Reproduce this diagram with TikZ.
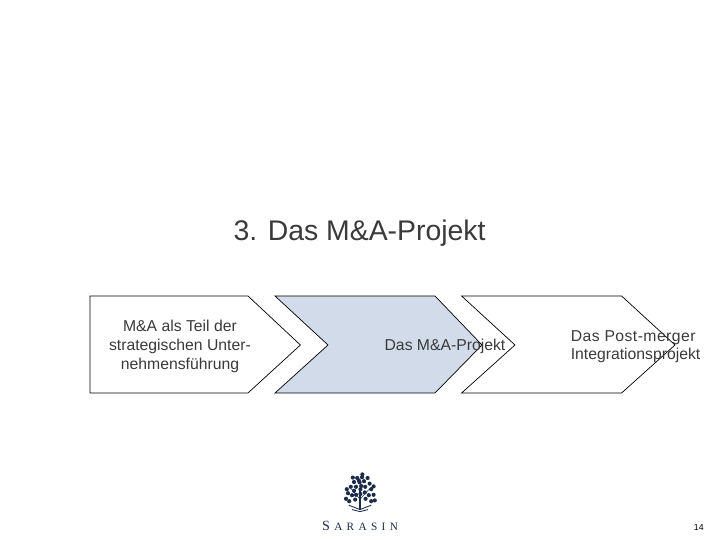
\documentclass[tikz,border=0pt]{standalone}
\usepackage{fontspec}
\setmainfont{Liberation Sans}
\newfontfamily\logofont{Liberation Serif}
\definecolor{midblue}{HTML}{D2DBEA}
\definecolor{txtgrey}{HTML}{3A3A3A}
\definecolor{logonavy}{HTML}{1C2B4A}
\tikzset{
	chevron/.style={draw=black, line width=0.5pt, line join=miter},
	steptext/.style={text=txtgrey, font=\fontsize{11.2pt}{13.3pt}\selectfont, align=center, inner sep=0pt},
	leaf/.style={fill=logonavy, draw=none}
}
\newcommand{\logogap}{\hspace{3.1pt}}
\begin{document}
\begin{tikzpicture}
	\useasboundingbox (0, 0) rectangle (18, 13.5);
	
	% chevrons
	\draw[chevron, fill=white] (2.25, 6.1) -- (6.2, 6.1) -- (7.51, 4.875) -- (6.2, 3.675) -- (2.25, 3.675) -- cycle;
	\draw[chevron, fill=midblue] (6.875, 6.1) -- (10.875, 6.1) -- (12.05, 4.875) -- (10.875, 3.675) -- (6.875, 3.675) -- (8.2, 4.875) -- cycle;
	\draw[chevron] (11.54, 6.1) -- (15.54, 6.1) -- (16.875, 4.875) -- (15.54, 3.675) -- (11.54, 3.675) -- (12.875, 4.875) -- cycle;
	
	% texts
	\node[text=txtgrey, font=\fontsize{20.2pt}{24pt}\selectfont, inner sep=0pt] (title) at (8.99, 7.67) {3. Das M\&A-Projekt};
	\node[steptext, font=\fontsize{11.2pt}{13.5pt}\selectfont] (stepa) at (4.5, 4.85) {M\&A als Teil der\\strategischen Unter-\\nehmensführung};
	\node[steptext] (stepb) at (11.125, 4.85) {Das M\&A-Projekt};
	\node[steptext, align=left] (stepc) at (15.89, 4.83) {{\addfontfeature{LetterSpace=2.8}Das Post-merger}\\Integrationsprojekt};
	\node[font=\fontsize{6.2pt}{7pt}\selectfont, inner sep=0pt] (pagenr) at (17.47, 0.32) {14};
	
	% logo
	\draw[logonavy, line width=1.1pt] (9, 0.76) -- (9, 1.25);
	\draw[logonavy, line width=0.4pt] (9, 1.02) -- (8.78, 1.28) (9, 1.02) -- (9.24, 1.28);
	\draw[logonavy, line width=0.6pt] (8.72, 0.87) -- (9, 0.76) -- (9.28, 0.87) (8.8, 0.76) -- (9, 0.71) -- (9.2, 0.76);
	\begin{scope}[shift={(9, 1.27)}]
	\foreach \lx/\ly in {0.01/0.0, 0.01/-0.12, 0.13/0.06, -0.1/0.06, -0.01/0.17, 0.1/0.2, -0.15/0.18, 0.24/0.14, -0.23/0.06, 0.28/0.0,
		-0.3/-0.1, 0.34/-0.14, -0.2/-0.15, 0.22/-0.15, -0.35/-0.24, 0.37/-0.28, -0.27/-0.3, 0.28/-0.3, -0.1/-0.14, 0.12/-0.08,
		-0.07/0.28, 0.05/0.3, -0.18/0.29, 0.19/0.28, 0.03/0.08, -0.15/-0.04, 0.06/0.37, -0.03/0.22, -0.12/-0.26, 0.14/-0.24, -0.33/0.0, 0.34/0.07}
		\fill[leaf] (\lx, \ly) circle (0.052);
	\end{scope}
	\node[text=logonavy, font=\logofont\fontsize{8pt}{9pt}\selectfont, inner sep=0pt] (logoname) at (9.0, 0.36) {{\fontsize{10pt}{9pt}\selectfont S}\logogap A\logogap R\logogap A\logogap S\logogap I\logogap N};
\end{tikzpicture}
\end{document}
